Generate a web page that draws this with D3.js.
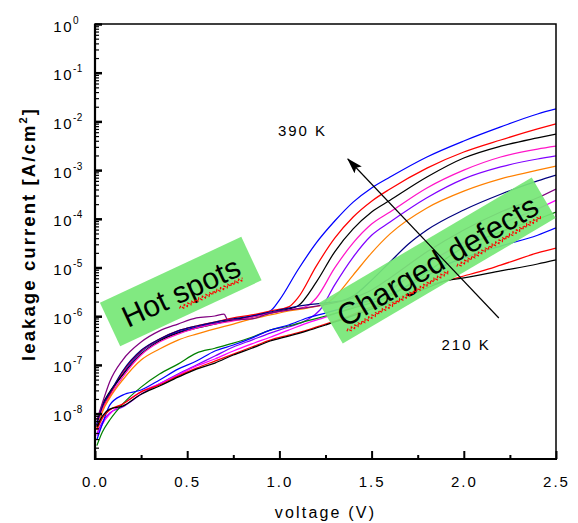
<!DOCTYPE html>
<html>
<head>
<meta charset="utf-8">
<script src="https://cdn.jsdelivr.net/npm/d3@7"></script>
<style>
  html, body { margin: 0; padding: 0; background: #fff; }
  svg { display: block; }
  text { font-family: "Liberation Sans", Arial, sans-serif; }
</style>
</head>
<body>
<svg id="chart" width="578" height="523"></svg>
<script>
// Leakage current density vs. voltage, measured from 210 K to 390 K in 15 K steps.
// Each series: [voltage (V), current density (A/cm^2)].
const temperatures = [390, 375, 360, 345, 330, 315, 300, 285, 270, 255, 240, 225, 210];
const seriesColors = ["#0000ff", "#ff0000", "#000000", "#ff14c8", "#8000ff", "#ff8000",
                      "#000080", "#800080", "#ff00ff", "#008000", "#0000ff", "#ff0000", "#000000"];

const iv390 = [[0.01,5.8e-9],[0.04,1.37e-8],[0.08,2.5e-8],[0.15,6.5e-8],[0.25,1.84e-7],[0.35,3.24e-7],[0.45,4.7e-7],[0.55,6.0e-7],[0.65,7.2e-7],[0.75,8.4e-7],[0.85,1.01e-6],[0.95,1.28e-6],[1.0,2.15e-6],[1.1,8.9e-6],[1.2,3.2e-5],[1.3,9.0e-5],[1.4,2.2e-4],[1.5,4.3e-4],[1.6,7.2e-4],[1.8,1.86e-3],[2.0,3.96e-3],[2.2,7.7e-3],[2.4,1.42e-2],[2.5,1.8e-2]];
const iv375 = [[0.01,5.1e-9],[0.04,1.24e-8],[0.08,2.4e-8],[0.15,7.1e-8],[0.25,1.93e-7],[0.35,3.4e-7],[0.45,5.0e-7],[0.55,6.3e-7],[0.65,7.6e-7],[0.75,9.2e-7],[0.85,1.06e-6],[0.95,1.28e-6],[1.05,1.55e-6],[1.1,2.37e-6],[1.2,1.07e-5],[1.3,4.0e-5],[1.4,1.09e-4],[1.5,2.3e-4],[1.6,4.1e-4],[1.8,1.1e-3],[2.0,2.35e-3],[2.2,4.15e-3],[2.4,7.0e-3],[2.5,8.9e-3]];
const iv360 = [[0.01,6.7e-9],[0.04,1.5e-8],[0.08,2.8e-8],[0.15,6.2e-8],[0.25,1.67e-7],[0.35,3.1e-7],[0.45,4.5e-7],[0.55,5.7e-7],[0.65,6.9e-7],[0.75,8.4e-7],[0.85,9.6e-7],[0.95,1.16e-6],[1.05,1.41e-6],[1.1,1.62e-6],[1.2,5.0e-6],[1.3,2.1e-5],[1.4,6.2e-5],[1.5,1.38e-4],[1.6,2.4e-4],[1.8,7.2e-4],[2.0,1.77e-3],[2.2,3.1e-3],[2.4,4.6e-3],[2.5,5.5e-3]];
const iv345 = [[0.01,5.6e-9],[0.04,1.19e-8],[0.08,2.2e-8],[0.15,5.6e-8],[0.25,1.6e-7],[0.35,2.95e-7],[0.45,4.3e-7],[0.55,5.7e-7],[0.65,6.9e-7],[0.75,8.0e-7],[0.85,9.6e-7],[0.95,1.16e-6],[1.05,1.34e-6],[1.15,1.62e-6],[1.2,2.37e-6],[1.3,9.8e-6],[1.4,3.2e-5],[1.5,7.8e-5],[1.6,1.38e-4],[1.8,4.3e-4],[2.0,1.0e-3],[2.2,1.86e-3],[2.4,2.7e-3],[2.5,3.1e-3]];
const iv330 = [[0.01,3.8e-9],[0.04,6.7e-9],[0.08,1.03e-8],[0.15,1.37e-8],[0.25,2.5e-8],[0.35,4.1e-8],[0.45,6.5e-8],[0.55,9.95e-8],[0.65,1.52e-7],[0.75,2.33e-7],[0.85,3.24e-7],[0.95,4.5e-7],[1.05,6.0e-7],[1.15,8.4e-7],[1.22,1.34e-6],[1.3,4.4e-6],[1.4,1.64e-5],[1.5,4.6e-5],[1.6,8.6e-5],[1.8,2.7e-4],[2.0,6.6e-4],[2.2,1.16e-3],[2.4,1.69e-3],[2.5,1.95e-3]];
const iv315 = [[0.01,4.6e-9],[0.04,1.08e-8],[0.08,2.1e-8],[0.15,4.9e-8],[0.25,1.26e-7],[0.35,2.12e-7],[0.45,3.24e-7],[0.55,4.3e-7],[0.65,5.5e-7],[0.75,6.9e-7],[0.85,8.8e-7],[0.95,1.06e-6],[1.05,1.28e-6],[1.15,1.47e-6],[1.25,1.78e-6],[1.3,2.48e-6],[1.4,7.0e-6],[1.5,2.0e-5],[1.6,4.9e-5],[1.8,1.67e-4],[2.0,3.7e-4],[2.2,6.6e-4],[2.4,1.0e-3],[2.5,1.21e-3]];
const iv300 = [[0.01,6.1e-9],[0.04,1.43e-8],[0.08,2.65e-8],[0.15,7.5e-8],[0.25,2.0e-7],[0.35,3.4e-7],[0.45,5.0e-7],[0.55,6.3e-7],[0.65,7.6e-7],[0.75,8.8e-7],[0.85,1.01e-6],[0.95,1.22e-6],[1.05,1.47e-6],[1.15,1.7e-6],[1.25,1.87e-6],[1.35,2.15e-6],[1.4,2.6e-6],[1.5,5.5e-6],[1.6,1.3e-5],[1.7,3.04e-5],[1.8,5.9e-5],[2.0,1.52e-4],[2.2,3.2e-4],[2.4,6.0e-4],[2.5,7.9e-4]];
const iv285 = [[0.01,7.4e-9],[0.04,1.65e-8],[0.08,4.5e-8],[0.15,1.26e-7],[0.25,2.95e-7],[0.35,5.0e-7],[0.45,6.9e-7],[0.55,9.2e-7],[0.65,1.01e-6],[0.7,1.11e-6],[0.72,8.4e-7],[0.85,8.8e-7],[0.95,1.16e-6],[1.05,1.34e-6],[1.2,1.62e-6],[1.4,2.37e-6],[1.5,3.45e-6],[1.6,6.1e-6],[1.8,2.1e-5],[2.0,5.9e-5],[2.2,1.38e-4],[2.4,2.7e-4],[2.5,4.1e-4]];
const iv270 = [[0.01,3.5e-9],[0.04,6.1e-9],[0.08,9.8e-9],[0.15,1.57e-8],[0.25,2.8e-8],[0.35,4.1e-8],[0.45,6.2e-8],[0.55,9.5e-8],[0.65,1.32e-7],[0.75,1.93e-7],[0.85,2.7e-7],[0.95,3.7e-7],[1.05,5.2e-7],[1.15,7.2e-7],[1.25,9.6e-7],[1.4,1.55e-6],[1.5,2.15e-6],[1.6,3.45e-6],[1.8,1.18e-5],[2.0,3.3e-5],[2.2,7.8e-5],[2.4,1.59e-4],[2.5,2.4e-4]];
const iv255 = [[0.01,2.2e-9],[0.04,4.2e-9],[0.08,7.4e-9],[0.15,1.57e-8],[0.25,3.5e-8],[0.35,6.5e-8],[0.45,1.04e-7],[0.55,1.75e-7],[0.65,2.2e-7],[0.75,2.8e-7],[0.85,3.7e-7],[0.95,5.2e-7],[1.05,6.3e-7],[1.15,8.0e-7],[1.25,1.01e-6],[1.4,1.47e-6],[1.6,2.6e-6],[1.8,8.1e-6],[2.0,2.6e-5],[2.2,5.4e-5],[2.4,9.9e-5],[2.5,1.38e-4]];
const iv240 = [[0.01,2.9e-9],[0.04,6.1e-9],[0.08,1.5e-8],[0.15,2.4e-8],[0.25,3.05e-8],[0.35,4.9e-8],[0.45,8.2e-8],[0.55,1.2e-7],[0.65,1.93e-7],[0.75,2.56e-7],[0.85,3.56e-7],[0.95,5.2e-7],[1.05,6.6e-7],[1.15,9.2e-7],[1.25,1.16e-6],[1.4,1.7e-6],[1.6,2.86e-6],[1.8,6.7e-6],[1.9,1.12e-5],[2.0,1.57e-5],[2.2,2.76e-5],[2.4,4.6e-5],[2.5,6.5e-5]];
const iv225 = [[0.01,4.6e-9],[0.04,8.1e-9],[0.08,1.19e-8],[0.15,1.57e-8],[0.25,2.8e-8],[0.35,3.9e-8],[0.45,5.9e-8],[0.55,8.6e-8],[0.65,1.2e-7],[0.75,1.67e-7],[0.85,2.33e-7],[0.95,3.24e-7],[1.05,4.1e-7],[1.15,5.2e-7],[1.25,6.9e-7],[1.35,9.2e-7],[1.5,1.55e-6],[1.7,2.86e-6],[1.8,4.2e-6],[1.9,5.3e-6],[2.0,6.7e-6],[2.1,8.5e-6],[2.2,1.12e-5],[2.4,1.99e-5],[2.5,2.5e-5]];
const iv210 = [[0.01,5.3e-9],[0.04,8.9e-9],[0.08,1.24e-8],[0.15,1.43e-8],[0.25,2.5e-8],[0.35,3.7e-8],[0.45,5.6e-8],[0.55,8.2e-8],[0.65,1.09e-7],[0.75,1.6e-7],[0.85,2.2e-7],[0.95,3.1e-7],[1.05,3.9e-7],[1.15,5.0e-7],[1.25,6.6e-7],[1.35,8.8e-7],[1.5,1.41e-6],[1.7,2.6e-6],[1.8,3.8e-6],[1.9,5.3e-6],[2.0,6.1e-6],[2.2,8.5e-6],[2.4,1.18e-5],[2.5,1.43e-5]];

const seriesData = [iv390, iv375, iv360, iv345, iv330, iv315, iv300, iv285, iv270, iv255, iv240, iv225, iv210];

// Axis ticks
const xMajorTicks = [0, 0.5, 1.0, 1.5, 2.0, 2.5];
const xTickLabels = ["0.0", "0.5", "1.0", "1.5", "2.0", "2.5"];
const xMinorTicks = [0.25, 0.75, 1.25, 1.75, 2.25];
const yDecadeExponents = [0, -1, -2, -3, -4, -5, -6, -7, -8];

// Annotations, in data coordinates
const arrowFrom = [2.19, 9.2e-7];
const arrowTo = [1.371, 1.69e-3];
const labelHigh = { text: "390 K", at: [0.992, 4.9e-3] };
const labelLow = { text: "210 K", at: [1.879, 2.07e-7] };
const hotSpots = { text: "Hot spots", at: [0.465, 3.21e-6] };
const chargedDefects = { text: "Charged defects", at: [1.856, 1.39e-5] };

// ---- drawing ----
const svg = d3.select("#chart");
const plot = { left: 95, right: 556, top: 24, bottom: 459 };

const x = d3.scaleLinear().domain([0, 2.5]).range([plot.left, plot.right]);
const y = d3.scaleLog().domain([1.17e-9, 1]).range([plot.bottom, plot.top]);

svg.append("defs").append("clipPath").attr("id", "plotClip")
  .append("rect")
  .attr("x", plot.left).attr("y", plot.top)
  .attr("width", plot.right - plot.left).attr("height", plot.bottom - plot.top);

svg.select("defs").append("marker")
  .attr("id", "arrowHead")
  .attr("viewBox", "0 0 16 10")
  .attr("refX", 15).attr("refY", 5)
  .attr("markerWidth", 16).attr("markerHeight", 10)
  .attr("markerUnits", "userSpaceOnUse")
  .attr("orient", "auto")
  .append("path").attr("d", "M0,0 L16,5 L0,10 L3,5 Z").attr("fill", "#000");

// curves
const line = d3.line()
  .x(d => x(d[0]))
  .y(d => y(d[1]))
  .curve(d3.curveMonotoneX);

const curves = svg.append("g").attr("clip-path", "url(#plotClip)");
seriesData.forEach((data, i) => {
  curves.append("path")
    .datum(data)
    .attr("d", line)
    .attr("fill", "none")
    .attr("stroke", seriesColors[i])
    .attr("stroke-width", 1.25)
    .attr("stroke-linejoin", "round");
});

// axes
const xMajor = d3.axisBottom(x).tickValues(xMajorTicks).tickSize(-8).tickPadding(17)
  .tickFormat((d, i) => xTickLabels[i]);
const gx = svg.append("g").attr("transform", `translate(0,${plot.bottom})`).call(xMajor);
gx.select(".domain").remove();
gx.selectAll(".tick line").attr("stroke-width", 2);
gx.selectAll(".tick text")
  .attr("font-size", 15).attr("letter-spacing", 2).attr("fill", "#000")
  .attr("font-family", "Liberation Sans, Arial, sans-serif");

const xMinor = d3.axisBottom(x).tickValues(xMinorTicks).tickSize(-4).tickFormat("");
const gxm = svg.append("g").attr("transform", `translate(0,${plot.bottom})`).call(xMinor);
gxm.select(".domain").remove();
gxm.selectAll(".tick line").attr("stroke-width", 2);

const yMajorValues = yDecadeExponents.map(e => Math.pow(10, e));
const yMinorValues = [];
for (let e = -9; e < 0; e++) {
  for (let m = 2; m <= 9; m++) {
    const v = m * Math.pow(10, e);
    if (v >= y.domain()[0]) yMinorValues.push(v);
  }
}
const yMajor = d3.axisLeft(y).tickValues(yMajorValues).tickSize(-7).tickFormat("");
const gy = svg.append("g").attr("transform", `translate(${plot.left},0)`).call(yMajor);
gy.select(".domain").remove();
gy.selectAll(".tick line").attr("stroke-width", 2.5);

const yMinor = d3.axisLeft(y).tickValues(yMinorValues).tickSize(-4).tickFormat("");
const gym = svg.append("g").attr("transform", `translate(${plot.left},0)`).call(yMinor);
gym.select(".domain").remove();
gym.selectAll(".tick line").attr("stroke-width", 1.2);

// y tick labels: 10 with superscript exponent
const yLabels = svg.append("g").attr("fill", "#000");
yDecadeExponents.forEach(e => {
  const yy = y(Math.pow(10, e));
  yLabels.append("text")
    .attr("x", 73).attr("y", yy + 7.5)
    .attr("text-anchor", "end")
    .attr("font-size", 15).attr("letter-spacing", 1.5)
    .text("10");
  yLabels.append("text")
    .attr("x", 73).attr("y", yy - 0.5)
    .attr("font-size", 10).attr("letter-spacing", 0.5)
    .text(e === 0 ? "0" : "-" + Math.abs(e));
});

// frame
svg.append("rect")
  .attr("x", plot.left).attr("y", plot.top)
  .attr("width", plot.right - plot.left).attr("height", plot.bottom - plot.top)
  .attr("fill", "none").attr("stroke", "#000").attr("stroke-width", 1.5);
svg.append("line")
  .attr("x1", plot.left).attr("x2", plot.left).attr("y1", plot.top).attr("y2", plot.bottom + 1)
  .attr("stroke", "#000").attr("stroke-width", 2.2);
svg.append("line")
  .attr("x1", plot.left - 1).attr("x2", plot.right + 1).attr("y1", plot.bottom).attr("y2", plot.bottom)
  .attr("stroke", "#000").attr("stroke-width", 2.2);

// axis titles
svg.append("text")
  .attr("x", (plot.left + plot.right) / 2).attr("y", 518)
  .attr("text-anchor", "middle")
  .attr("font-size", 16).attr("letter-spacing", 2.2)
  .text("voltage (V)");

const yTitle = svg.append("text")
  .attr("transform", "translate(35,234) rotate(-90)")
  .attr("text-anchor", "middle")
  .attr("font-size", 18.5).attr("font-weight", "bold").attr("letter-spacing", 2.1);
yTitle.append("tspan").text("leakage current [A/cm");
yTitle.append("tspan").attr("font-size", 11).attr("dy", -8).text("2");
yTitle.append("tspan").attr("dy", 8).text("]");

// highlighted annotation boxes with spell-check style underline
function zigzag(x0, x1, yy) {
  let d = `M${x0},${yy}`;
  let up = true;
  for (let xx = x0 + 2; xx <= x1; xx += 2) {
    d += ` L${xx},${yy + (up ? -1.5 : 1.5)}`;
    up = !up;
  }
  return d;
}

function labelBox(spec, w, h, angle, fontSize, underlineWords) {
  const g = svg.append("g")
    .attr("transform", `translate(${x(spec.at[0])},${y(spec.at[1])}) rotate(${angle})`);
  g.append("rect")
    .attr("x", -w / 2).attr("y", -h / 2).attr("width", w).attr("height", h)
    .attr("fill", "#77e777").attr("fill-opacity", 0.93);
  const t = g.append("text")
    .attr("x", 0).attr("y", 0).attr("dy", "0.36em")
    .attr("text-anchor", "middle")
    .attr("font-size", fontSize).attr("fill", "#000")
    .text(spec.text);
  const node = t.node();
  const total = node.getComputedTextLength();
  const start = -total / 2;
  const baseline = fontSize * 0.36 + 4;
  underlineWords.forEach(([from, count]) => {
    const a = start + (from > 0 ? node.getSubStringLength(0, from) : 0);
    const b = a + node.getSubStringLength(from, count);
    g.append("path")
      .attr("d", zigzag(a, b, baseline))
      .attr("fill", "none").attr("stroke", "#ff0000").attr("stroke-width", 1.2)
      .attr("stroke-dasharray", "3,1");
  });
}

labelBox(hotSpots, 156, 48, -25, 30, [[4, 5]]);
labelBox(chargedDefects, 247, 47, -30.5, 31, [[0, 7], [8, 7]]);

// temperature arrow and labels
svg.append("line")
  .attr("x1", x(arrowFrom[0])).attr("y1", y(arrowFrom[1]))
  .attr("x2", x(arrowTo[0])).attr("y2", y(arrowTo[1]))
  .attr("stroke", "#000").attr("stroke-width", 1.2)
  .attr("marker-end", "url(#arrowHead)");

[labelHigh, labelLow].forEach(l => {
  svg.append("text")
    .attr("x", x(l.at[0])).attr("y", y(l.at[1]))
    .attr("font-size", 15).attr("letter-spacing", 2)
    .text(l.text);
});
</script>
</body>
</html>
